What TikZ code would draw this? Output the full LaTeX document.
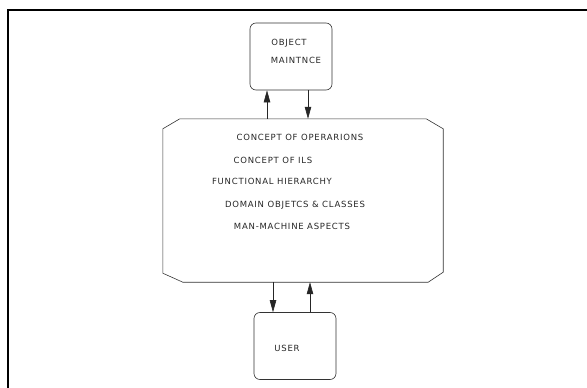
\documentclass[tikz,border=0pt]{standalone}
\usepackage{fontspec}
\newfontfamily\plotfont[LetterSpace=9]{DejaVu Sans}
\usetikzlibrary{arrows.meta,positioning}

\begin{document}
\begin{tikzpicture}[x=1pt,y=-1pt,>={Triangle[length=12pt,width=6.5pt]},
  font=\plotfont\fontsize{8.5}{10}\selectfont,
  box/.style={draw=black!80,line width=0.6pt,rounded corners=6pt,
    minimum width=82pt,minimum height=67pt,inner sep=0pt},
  ops/.style={minimum width=280pt,minimum height=163pt,inner sep=0pt},
  edge/.style={draw=black!80,line width=0.6pt},
  flow/.style={->,line width=0.6pt,black!85},
  txt/.style={text=black!85,inner sep=0pt}]
\useasboundingbox (0,0) rectangle (587,388);
% outer frame, only top and left edges show
\draw[line width=1.6pt] (8,388) -- (8,10) -- (587,10);

% boxes
\node[box] (obj) at (291,56.5) {};
\node[txt] (objA) at (289,43) {OBJECT};
\node[txt] (objB) at (296,60) {MAINTNCE};
\node[ops] (main) at (303,200.5) {};
\node[box] (user) at (295,346) {};
\node[txt] (userA) at (287,348) {USER};

% octagonal outline of the operations box
\draw[edge] ([xshift=17pt]main.north west) -- ([xshift=-17pt]main.north east)
  -- ([yshift=-10pt]main.north east) -- ([yshift=10pt]main.south east)
  -- ([xshift=-15pt]main.south east) -- ([xshift=20pt]main.south west)
  -- ([yshift=9pt]main.south west) -- ([yshift=-10pt]main.north west) -- cycle;

% concept of operations contents
\node[txt] (head) at (300,137) {CONCEPT OF OPERARIONS};
\node[txt] (ils) at (273,160) {CONCEPT OF ILS};
\node[txt] (hier) at (272,181) {FUNCTIONAL HIERARCHY};
\node[txt] (dom) at (295,205) {DOMAIN OBJETCS \& CLASSES};
\node[txt] (mma) at (292,226) {MAN-MACHINE ASPECTS};

% links
\draw[flow] ([xshift=-36pt]main.north) -- ([xshift=-36pt]main.north |- obj.south);
\draw[flow] ([xshift=5pt]main.north |- obj.south) -- ([xshift=5pt]main.north);
\draw[flow] ([xshift=-30pt]main.south) -- ([xshift=-30pt]main.south |- user.north);
\draw[flow] ([xshift=7pt]main.south |- user.north) -- ([xshift=7pt]main.south);
\end{tikzpicture}
\end{document}
